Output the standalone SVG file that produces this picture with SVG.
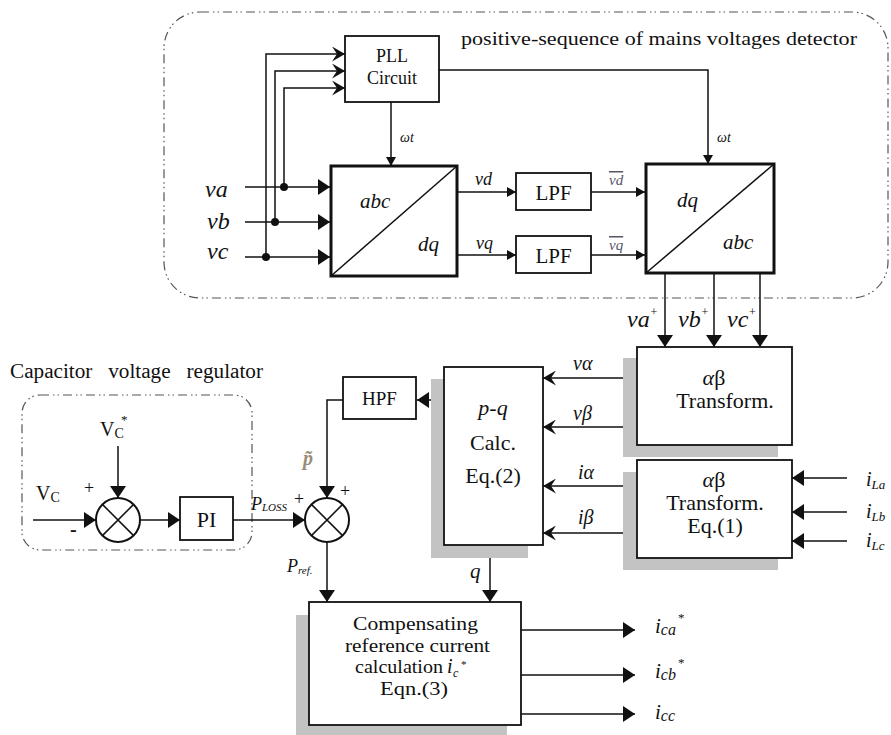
<svg xmlns="http://www.w3.org/2000/svg" width="891" height="735" viewBox="0 0 891 735">
<style>
text{font-family:"Liberation Serif","Times New Roman",serif;fill:#111}
.it{font-style:italic}
.box{fill:#fff;stroke:#111;stroke-width:1.8}
.thick{fill:#fff;stroke:#111;stroke-width:3}
.sh{fill:#c3c3c3;stroke:none}
.ln{fill:none;stroke:#111;stroke-width:1.5}
.dash{fill:none;stroke:#555;stroke-width:1.2;stroke-dasharray:9 4 1.5 3 1.5 4}
.c{text-anchor:middle}
</style>
<defs>
<marker id="a" markerUnits="userSpaceOnUse" markerWidth="13" markerHeight="16" refX="12" refY="8" orient="auto"><path d="M0,0 L12,8 L0,16 z" fill="#111"/></marker>
<marker id="as" markerUnits="userSpaceOnUse" markerWidth="10" markerHeight="10" refX="9" refY="5" orient="auto"><path d="M0,0 L9,5 L0,10 z" fill="#111"/></marker>
<marker id="an" markerUnits="userSpaceOnUse" markerWidth="14" markerHeight="15" refX="13" refY="7.5" orient="auto"><path d="M0,0 L13,7.5 L0,15 L5,7.5 z" fill="#111"/></marker>
</defs>

<!-- borders and titles -->
<rect class="dash" x="164" y="12" width="724" height="286" rx="36"/>
<text x="461" y="45" font-size="19" textLength="396" lengthAdjust="spacingAndGlyphs">positive-sequence of mains voltages detector</text>
<rect class="dash" x="22" y="395" width="230" height="155" rx="18"/>
<text x="10" y="378" font-size="20" word-spacing="10" textLength="253" lengthAdjust="spacingAndGlyphs">Capacitor voltage regulator</text>

<!-- connectors -->
<g id="connectors">
<path class="ln" d="M266,257 V54 H345" marker-end="url(#an)"/>
<path class="ln" d="M275,222 V71 H345" marker-end="url(#an)"/>
<path class="ln" d="M284,187 V88 H345" marker-end="url(#an)"/>
<circle cx="284" cy="187" r="4" fill="#111"/>
<circle cx="275" cy="222" r="4" fill="#111"/>
<circle cx="266" cy="257" r="4" fill="#111"/>
<path class="ln" d="M245,187 H330" marker-end="url(#a)"/>
<path class="ln" d="M245,222 H330" marker-end="url(#a)"/>
<path class="ln" d="M245,257 H330" marker-end="url(#a)"/>
<path class="ln" d="M391,102 V166" marker-end="url(#as)"/>
<path class="ln" d="M439,70 H708 V164" marker-end="url(#as)"/>
<path class="ln" d="M457,192 H516" marker-end="url(#as)"/>
<path class="ln" d="M457,255 H516" marker-end="url(#as)"/>
<path class="ln" d="M591,192 H645" marker-end="url(#as)"/>
<path class="ln" d="M591,255 H645" marker-end="url(#as)"/>
<path class="ln" d="M665,273 V347" marker-end="url(#a)"/>
<path class="ln" d="M714,273 V347" marker-end="url(#a)"/>
<path class="ln" d="M760,273 V347" marker-end="url(#a)"/>
<path class="ln" d="M630,378 H543" marker-end="url(#an)"/>
<path class="ln" d="M630,427 H543" marker-end="url(#an)"/>
<path class="ln" d="M630,486 H543" marker-end="url(#an)"/>
<path class="ln" d="M630,533 H543" marker-end="url(#an)"/>
<path class="ln" d="M847,478 H792" marker-end="url(#a)"/>
<path class="ln" d="M847,512 H792" marker-end="url(#a)"/>
<path class="ln" d="M847,541 H792" marker-end="url(#a)"/>
<path class="ln" d="M444,400 H417" marker-end="url(#a)"/>
<path class="ln" d="M343,400 H327 V498" marker-end="url(#a)"/>
<path class="ln" d="M33,520 H96" marker-end="url(#a)"/>
<path class="ln" d="M118,446 V498" marker-end="url(#a)"/>
<path class="ln" d="M140,520 H180" marker-end="url(#a)"/>
<path class="ln" d="M233,520 H305" marker-end="url(#a)"/>
<path class="ln" d="M327,542 V602" marker-end="url(#a)"/>
<path class="ln" d="M490,545 V602" marker-end="url(#a)"/>
<path class="ln" d="M521,630 H635" marker-end="url(#a)"/>
<path class="ln" d="M521,675 H635" marker-end="url(#a)"/>
<path class="ln" d="M521,714 H635" marker-end="url(#a)"/>
</g>

<!-- connector labels -->
<g id="labels">
<text class="it" x="205" y="197" font-size="24">va</text>
<text class="it" x="207" y="229" font-size="24">vb</text>
<text class="it" x="207" y="259" font-size="24">vc</text>
<text class="it" x="400" y="142" font-size="14">ωt</text>
<text class="it" x="717" y="142" font-size="14">ωt</text>
<text class="it" x="475" y="185" font-size="18">vd</text>
<text class="it" x="476" y="249" font-size="18">vq</text>
<text class="it" x="609" y="185" font-size="15" style="fill:#556;text-decoration:overline">vd</text>
<text class="it" x="609" y="250" font-size="15" style="fill:#556;text-decoration:overline">vq</text>
<text class="it" x="627" y="327" font-size="24">va<tspan font-size="12" dy="-11">+</tspan></text>
<text class="it" x="678" y="327" font-size="24">vb<tspan font-size="12" dy="-11">+</tspan></text>
<text class="it" x="727" y="327" font-size="24">vc<tspan font-size="12" dy="-11">+</tspan></text>
<text class="it" x="573" y="370" font-size="20">vα</text>
<text class="it" x="573" y="420" font-size="20">vβ</text>
<text class="it" x="578" y="479" font-size="20">iα</text>
<text class="it" x="578" y="524" font-size="20">iβ</text>
<text class="it" x="866" y="486" font-size="20">i<tspan font-size="13" dy="3">La</tspan></text>
<text class="it" x="866" y="518" font-size="20">i<tspan font-size="13" dy="3">Lb</tspan></text>
<text class="it" x="866" y="547" font-size="20">i<tspan font-size="13" dy="3">Lc</tspan></text>
<text class="it" x="303" y="465" font-size="20" font-weight="bold" style="fill:#9a8c78">p̃</text>
<text class="it" x="251" y="510" font-size="18">P<tspan font-size="11" dy="1">LOSS</tspan></text>
<text class="it" x="287" y="572" font-size="18">P<tspan font-size="11" dy="2">ref.</tspan></text>
<text class="it" x="470" y="578" font-size="21">q</text>
<text x="36" y="500" font-size="20">V<tspan font-size="14" dy="2">C</tspan></text>
<text x="100" y="436" font-size="20">V<tspan font-size="14" dy="2">C</tspan></text>
<text x="121" y="424" font-size="13">*</text>
<text x="84" y="494" font-size="18">+</text>
<text x="70" y="536" font-size="20" font-weight="bold">-</text>
<text x="294" y="505" font-size="18">+</text>
<text x="340" y="497" font-size="18">+</text>
<text class="it" x="655" y="633" font-size="21">i<tspan font-size="16" dy="2">ca</tspan></text>
<text x="678" y="622" font-size="13">*</text>
<text class="it" x="655" y="678" font-size="21">i<tspan font-size="16" dy="2">cb</tspan></text>
<text x="678" y="667" font-size="13">*</text>
<text class="it" x="655" y="719" font-size="21">i<tspan font-size="16" dy="2">cc</tspan></text>
</g>

<g id="pll">
<rect class="box" x="345" y="36" width="94" height="66"/>
<text class="c" x="392" y="62" font-size="18">PLL</text>
<text class="c" x="392" y="84" font-size="18">Circuit</text>
</g>

<g id="abc2dq">
<rect class="thick" x="331" y="166" width="126" height="110"/>
<line class="ln" x1="331" y1="276" x2="457" y2="166"/>
<text class="it" x="360" y="208" font-size="21">abc</text>
<text class="it" x="418" y="251" font-size="21">dq</text>
</g>

<g id="lpf1">
<rect class="box" x="516" y="173" width="75" height="37"/>
<text class="c" x="553.5" y="200" font-size="21">LPF</text>
</g>
<g id="lpf2">
<rect class="box" x="516" y="236" width="75" height="37"/>
<text class="c" x="553.5" y="263" font-size="21">LPF</text>
</g>

<g id="dq2abc">
<rect class="thick" x="646" y="164" width="128" height="109"/>
<line class="ln" x1="646" y1="273" x2="774" y2="164"/>
<text class="it" x="677" y="207" font-size="21">dq</text>
<text class="it" x="723" y="249" font-size="21">abc</text>
</g>

<g id="ab1">
<rect class="sh" x="623" y="358" width="155" height="99"/>
<rect class="box" x="637" y="347" width="155" height="98"/>
<text class="c" x="714" y="385" font-size="22"><tspan font-style="italic">α</tspan>β</text>
<text class="c" x="725" y="408" font-size="22">Transform.</text>
</g>

<g id="ab2">
<rect class="sh" x="623" y="472" width="155" height="98"/>
<rect class="box" x="637" y="460" width="155" height="98"/>
<text class="c" x="714" y="487" font-size="22"><tspan font-style="italic">α</tspan>β</text>
<text class="c" x="715" y="510" font-size="22">Transform.</text>
<text class="c" x="715" y="533" font-size="22">Eq.(1)</text>
</g>

<g id="pq">
<rect class="sh" x="431" y="379" width="97" height="179"/>
<rect class="box" x="444" y="367" width="99" height="178"/>
<text class="c it" x="493" y="415" font-size="22">p-q</text>
<text class="c" x="493" y="450" font-size="22">Calc.</text>
<text class="c" x="493" y="483" font-size="22">Eq.(2)</text>
</g>

<g id="hpf">
<rect class="box" x="343" y="377" width="73" height="42"/>
<text class="c" x="379.5" y="405" font-size="19">HPF</text>
</g>

<g id="sum1">
<circle cx="118" cy="520" r="22" fill="#fff" stroke="#111" stroke-width="2"/>
<path class="ln" d="M102.4,504.4 L133.6,535.6 M133.6,504.4 L102.4,535.6"/>
</g>

<g id="pi">
<rect class="box" x="180" y="497" width="53" height="43"/>
<text class="c" x="206.5" y="527" font-size="22">PI</text>
</g>

<g id="sum2">
<circle cx="327" cy="520" r="22" fill="#fff" stroke="#111" stroke-width="2"/>
<path class="ln" d="M311.4,504.4 L342.6,535.6 M342.6,504.4 L311.4,535.6"/>
</g>

<g id="comp">
<rect class="sh" x="296" y="615" width="211" height="125"/>
<rect class="box" x="309" y="602" width="212" height="123"/>
<text x="353" y="630" font-size="19" textLength="125" lengthAdjust="spacingAndGlyphs">Compensating</text>
<text x="345" y="652" font-size="19" textLength="145" lengthAdjust="spacingAndGlyphs">reference current</text>
<text x="355" y="673" font-size="19" textLength="88" lengthAdjust="spacingAndGlyphs">calculation</text>
<text class="it" x="447" y="673" font-size="20">i</text>
<text class="it" x="453" y="677" font-size="12">c</text>
<text x="461" y="668" font-size="11">*</text>
<text x="380" y="695" font-size="19" textLength="68" lengthAdjust="spacingAndGlyphs">Eqn.(3)</text>
</g>
</svg>
